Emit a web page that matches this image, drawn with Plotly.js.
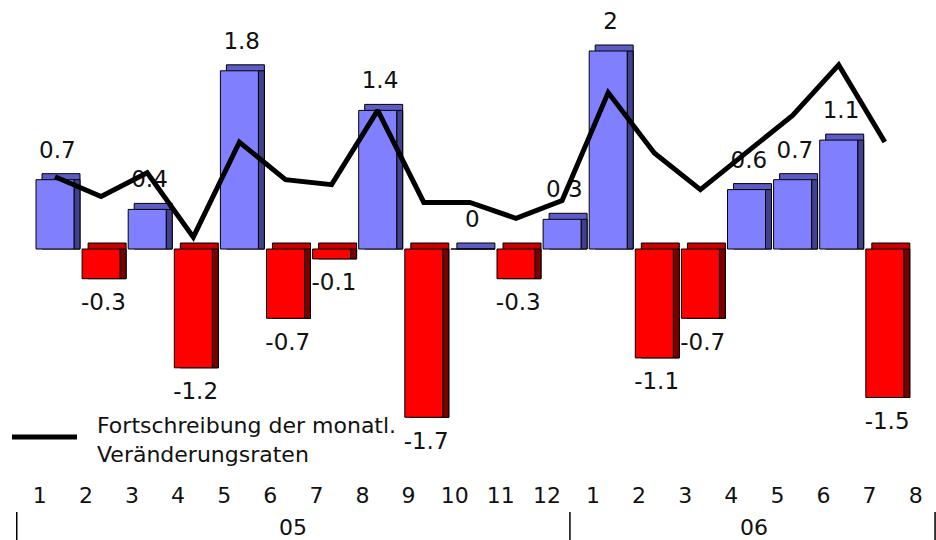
<!DOCTYPE html>
<html>
<head>
<meta charset="utf-8">
<script src="https://cdn.plot.ly/plotly-3.0.1.min.js"></script>
<style>html,body{margin:0;padding:0;background:#fff;}#chart{width:936px;height:540px;}</style>
</head>
<body>
<div id="chart"></div>
<script>
// ---- data ----
const months = ['1','2','3','4','5','6','7','8','9','10','11','12','1','2','3','4','5','6','7','8'];
const years = ['05','06'];
const yearCounts = [12, 8];
const monthlyChange = [0.7,-0.3,0.4,-1.2,1.8,-0.7,-0.1,1.4,-1.7,0,-0.3,0.3,2,-1.1,-0.7,0.6,0.7,1.1,-1.5,null];
const trendLine = [0.73,0.53,0.77,0.12,1.08,0.70,0.65,1.40,0.47,0.47,0.31,0.49,1.58,0.97,0.60,0.97,1.35,1.86,1.08,null];
const lineName = 'Fortschreibung der monatl.<br>Veränderungsraten';

// ---- geometry helpers (pixel -> data units) ----
const FONT = 'DejaVu Sans, Liberation Sans, Arial, sans-serif';
const PX_X = 46.1, PX_Y = 99;
const W = 936, H = 540, B = 70, PH = H - B;
const x0 = -55 / PX_X, x1 = x0 + W / PX_X;
const yTop = 249 / PX_Y, yBot = -(PH - 249) / PX_Y;
const barW = 38 / PX_X, dx = 6 / PX_X, dy = 6 / PX_Y;
const tickShift = -0.33;

const idx = months.map((_, i) => i);
const bx = [], bv = [], bBase = [], bAbs = [], frontCol = [], topCol = [], sideCol = [];
monthlyChange.forEach((v, i) => {
  if (v === null) return;
  bx.push(i); bv.push(v);
  bBase.push(Math.min(v, 0)); bAbs.push(Math.abs(v));
  const pos = v >= 0;
  frontCol.push(pos ? '#8080FF' : '#FF0000');
  topCol.push(pos ? '#5C5CC4' : '#C40000');
  sideCol.push(pos ? '#40408C' : '#780000');
});

const outline = {color: '#000', width: 1};
const traces = [
  {type: 'bar', x: bx, y: bAbs.map(a => a + dy), base: bBase, width: barW, offset: -barW/2 + dx,
   marker: {color: topCol, line: outline}, hoverinfo: 'skip', showlegend: false},
  {type: 'bar', x: bx, y: bAbs, base: bBase, width: dx, offset: barW/2,
   marker: {color: sideCol, line: outline}, hoverinfo: 'skip', showlegend: false},
  {type: 'bar', x: bx, y: bv, width: barW, offset: -barW/2,
   marker: {color: frontCol, line: outline}, showlegend: false},
  {type: 'scatter', mode: 'text', x: bx.map(i => i + 0.05),
   y: bv.map(v => v >= 0 ? v + 0.28 : v - 0.26), text: bv.map(v => String(v)),
   textfont: {family: FONT, size: 23, color: '#111'},
   textposition: 'middle center', cliponaxis: false, hoverinfo: 'skip', showlegend: false},
  {type: 'scatter', mode: 'lines', name: lineName, x: idx, y: trendLine,
   line: {color: '#000', width: 5}, showlegend: false}
];

// group dividers and year labels
const shapes = [], annotations = [];
const toPaper = x => Math.min(0.999, Math.max(0.001, (x - x0) / (x1 - x0)));
let start = 0;
const divY0 = -(512 - PH) / PH, divY1 = -(540 - PH) / PH;
const addDiv = pos => shapes.push({type: 'line', xref: 'paper', yref: 'paper',
  x0: toPaper(pos), x1: toPaper(pos), y0: divY0, y1: divY1, line: {color: '#000', width: 1.5}});
addDiv(start + tickShift - 0.5);
years.forEach((yr, k) => {
  const end = start + yearCounts[k];
  annotations.push({xref: 'x', yref: 'paper', x: (start + end) / 2 + tickShift - 0.5,
    y: -(527 - PH) / PH, text: yr, showarrow: false, yanchor: 'middle',
    font: {family: FONT, size: 22, color: '#111'}});
  addDiv(end + tickShift - 0.5);
  start = end;
});

// legend (custom)
shapes.push({type: 'line', xref: 'paper', yref: 'paper', x0: 12 / W, x1: 77 / W,
  y0: (PH - 437) / PH, y1: (PH - 437) / PH, line: {color: '#000', width: 5}});
annotations.push({xref: 'paper', yref: 'paper', x: 95 / W, y: (PH - 440) / PH,
  xanchor: 'left', yanchor: 'middle', align: 'left', showarrow: false, text: lineName,
  font: {family: FONT, size: 22, color: '#111'}});

const layout = {
  width: W, height: H, margin: {l: 0, r: 0, t: 0, b: B, pad: 0},
  paper_bgcolor: '#fff', plot_bgcolor: '#fff', barmode: 'overlay', showlegend: false,
  xaxis: {range: [x0, x1], tickvals: idx.map(i => i + tickShift), ticktext: months,
    showgrid: false, zeroline: false, showline: false, ticks: '', ticklabelstandoff: 10,
    tickfont: {family: FONT, size: 22, color: '#111'},
    fixedrange: true},
  yaxis: {range: [yBot, yTop], visible: false, showgrid: false, zeroline: false, fixedrange: true},
  shapes: shapes, annotations: annotations
};
Plotly.newPlot('chart', traces, layout, {staticPlot: true, displayModeBar: false});
</script>
</body>
</html>
